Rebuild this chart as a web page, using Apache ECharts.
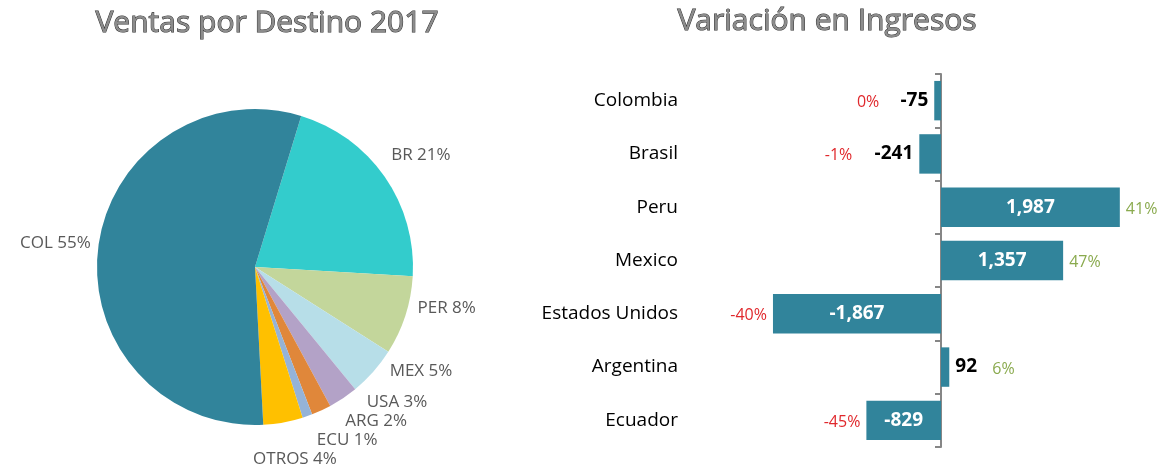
<!DOCTYPE html>
<html>
<head>
<meta charset="utf-8">
<script src="https://cdn.jsdelivr.net/npm/echarts@6/dist/echarts.min.js"></script>
<style>
  html, body { margin: 0; padding: 0; background: #fff; }
  #chart { width: 1166px; height: 469px; }
</style>
</head>
<body>
<div id="chart"></div>
<script>
// pie: ventas por destino (percent shares, clockwise from BR)
const pieNames = ["BR", "PER", "MEX", "USA", "ARG", "ECU", "OTROS", "COL"];
const pieShares = [21, 8, 5, 3, 2, 1, 4, 55];
const pieColors = ["#33CCCC", "#C3D69B", "#B7DEE8", "#B3A2C7", "#E0873A", "#95B3D7", "#FFC000", "#31849B"];

// bars: variacion en ingresos
const countries = ["Colombia", "Brasil", "Peru", "Mexico", "Estados Unidos", "Argentina", "Ecuador"];
const variation = [-75, -241, 1987, 1357, -1867, 92, -829];
const variationPct = ["0%", "-1%", "41%", "47%", "-40%", "6%", "-45%"];

const FONT = "'Open Sans', sans-serif";
const BAR_COLOR = "#31849B";
const AXIS_GRAY = "#868686";

// bar grid layout
const X_MIN = -2500;
const X_MAX = 2500;
const GRID_LEFT = 716;
const GRID_WIDTH = 450;
const GRID_TOP = 74;
const GRID_BOTTOM = 22;
const zeroX = GRID_LEFT + (GRID_WIDTH * (0 - X_MIN)) / (X_MAX - X_MIN);

function fmt(v) {
  return v.toLocaleString("en-US");
}

function isBig(v) {
  return Math.abs(v) > 500;
}

const valueData = variation.map((v) => ({
  value: v,
  label: isBig(v)
    ? { position: "inside", color: "#fff" }
    : { position: v < 0 ? "left" : "right", color: "#000", distance: 6 },
}));

const pctData = variation.map((v, i) => ({
  value: v,
  label: {
    position: v < 0 ? "left" : "right",
    color: v < 0 ? "#E0282C" : "#8AAA4E",
    distance: isBig(v) ? 6 : 19 + fmt(v).length * 12,
    offset: [0, 2],
    formatter: variationPct[i],
  },
}));

const titleStyle = {
  fontFamily: FONT,
  fontSize: 30,
  fontWeight: "normal",
  color: "#8c8c8c",
  textBorderColor: "#2f2f2f",
  textBorderWidth: 1,
};

const chart = echarts.init(document.getElementById("chart"));

chart.setOption({
  animation: false,
  title: [
    { text: "Ventas por Destino 2017", left: 262, top: 3, textAlign: "center", textStyle: titleStyle },
    { text: "Variación en Ingresos", left: 822, top: 1, textAlign: "center", textStyle: titleStyle },
  ],
  grid: [
    { left: GRID_LEFT, width: GRID_WIDTH, top: GRID_TOP, bottom: GRID_BOTTOM },
    // zero line with ticks
    { left: zeroX, width: 10, top: GRID_TOP, bottom: GRID_BOTTOM },
  ],
  xAxis: [
    { type: "value", gridIndex: 0, min: X_MIN, max: X_MAX, show: false },
    { type: "value", gridIndex: 1, min: 0, max: 1, show: false },
  ],
  yAxis: [
    {
      type: "category",
      gridIndex: 0,
      data: countries,
      inverse: true,
      axisLine: { show: false, onZero: false },
      axisTick: { show: false },
      axisLabel: { fontFamily: FONT, fontSize: 19, color: "#000", margin: 38 },
    },
    {
      type: "category",
      gridIndex: 1,
      data: countries,
      inverse: true,
      position: "left",
      axisLine: { onZero: false, lineStyle: { color: AXIS_GRAY, width: 2 } },
      axisTick: { show: true, length: 6, lineStyle: { color: AXIS_GRAY, width: 2 } },
      axisLabel: { show: false },
    },
  ],
  series: [
    {
      type: "pie",
      center: [255, 267],
      radius: 158,
      startAngle: 73,
      clockwise: true,
      avoidLabelOverlap: true,
      data: pieNames.map((n, i) => ({
        name: n,
        value: pieShares[i],
        itemStyle: { color: pieColors[i] },
      })),
      label: {
        show: true,
        position: "outside",
        overflow: "none",
        formatter: (p) => `${p.name} ${p.value}%`,
        fontFamily: FONT,
        fontSize: 17,
        color: "#595959",
      },
      labelLine: { show: false, length: 38, length2: 0 },
      labelLayout: { align: "center", verticalAlign: "middle" },
    },
    {
      type: "bar",
      xAxisIndex: 0,
      yAxisIndex: 0,
      data: valueData,
      barCategoryGap: "26%",
      itemStyle: { color: BAR_COLOR },
      label: {
        show: true,
        formatter: (p) => fmt(p.value),
        fontFamily: FONT,
        fontSize: 19,
        fontWeight: "bold",
      },
      z: 3,
    },
    {
      type: "bar",
      xAxisIndex: 0,
      yAxisIndex: 0,
      data: pctData,
      barCategoryGap: "26%",
      barGap: "-100%",
      itemStyle: { color: "transparent" },
      label: { show: true, fontFamily: FONT, fontSize: 16 },
      z: 2,
    },
  ],
});
</script>
</body>
</html>
